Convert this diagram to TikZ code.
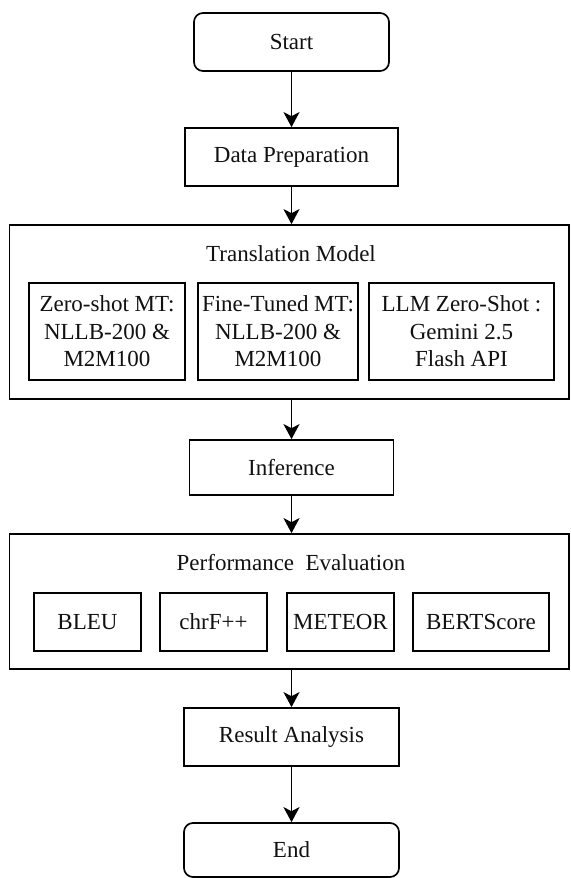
\documentclass[tikz,border=0pt]{standalone}
\usepackage{fontspec}
\setmainfont{Liberation Serif}
\usetikzlibrary{positioning,arrows.meta}
\definecolor{LineBlack}{HTML}{000000}
\definecolor{TextDark}{HTML}{111111}
\newcommand{\fs}{\rmfamily\fontsize{11.5}{13.8}\selectfont}

\begin{document}
\begin{tikzpicture}[x=0.5pt, y=-0.5pt,
  stepbox/.style={draw=LineBlack, line width=0.85pt, fill=white, font=\fs, text=TextDark, align=center, inner sep=0pt, minimum height=29pt},
  termbox/.style={stepbox, rounded corners=4.5pt},
  groupbox/.style={draw=LineBlack, line width=0.85pt, inner sep=0pt},
  flow/.style={draw=LineBlack, line width=0.85pt, -{Stealth[length=7.5pt, width=8pt, inset=2pt]}}]
  \useasboundingbox (0,0) rectangle (571,878);

  % Start / Data Preparation
  \node[termbox, minimum width=97.5pt] (start) at (291.5,42) {Start};
  \node[stepbox, minimum width=106.5pt] (prep) at (291.5,157) {Data Preparation};

  % Translation Model group
  \node[groupbox, minimum width=279.75pt, minimum height=87pt] (model) at (289.25,312) {};
  \node[font=\fs, text=TextDark] (modeltitle) at (291,254) {Translation Model};
  \node[stepbox, minimum width=78pt, minimum height=48.5pt] (zeroshot) at (107,331.5) {Zero-shot MT:\\NLLB-200 \&\\M2M100};
  \node[stepbox, minimum width=80pt, minimum height=48.5pt] (finetuned) at (278,331.5) {Fine-Tuned MT:\\NLLB-200 \&\\M2M100};
  \node[stepbox, minimum width=92.5pt, minimum height=48.5pt] (llm) at (461.5,331.5) {LLM Zero-Shot :\\Gemini 2.5\\Flash API};

  % Inference
  \node[stepbox, minimum width=102pt, minimum height=27.5pt] (inference) at (291.5,467.5) {Inference};

  % Performance Evaluation group
  \node[groupbox, minimum width=279.75pt, minimum height=67.5pt] (perf) at (289.25,601.5) {};
  \node[font=\fs, text=TextDark] (perftitle) at (291,563) {Performance~~Evaluation};
  \node[stepbox, minimum width=53.5pt] (bleu) at (87.5,622) {BLEU};
  \node[stepbox, minimum width=53.5pt] (chrf) at (213.5,622) {chrF++};
  \node[stepbox, minimum width=53.5pt] (meteor) at (340.5,622) {METEOR};
  \node[stepbox, minimum width=68pt] (bert) at (481,622) {BERTScore};

  % Result Analysis / End
  \node[stepbox, minimum width=107.5pt] (result) at (291.5,737) {Result Analysis};
  \node[termbox, minimum width=107.5pt, minimum height=27pt] (finish) at (291.5,850) {End};

  % Arrows
  \draw[flow] (start) -- (prep);
  \draw[flow] (prep) -- (prep.south |- model.north);
  \draw[flow] (prep.south |- model.south) -- (inference);
  \draw[flow] (inference) -- (inference.south |- perf.north);
  \draw[flow] (perf.south -| result.north) -- (result);
  \draw[flow] (result) -- (finish);
\end{tikzpicture}
\end{document}
